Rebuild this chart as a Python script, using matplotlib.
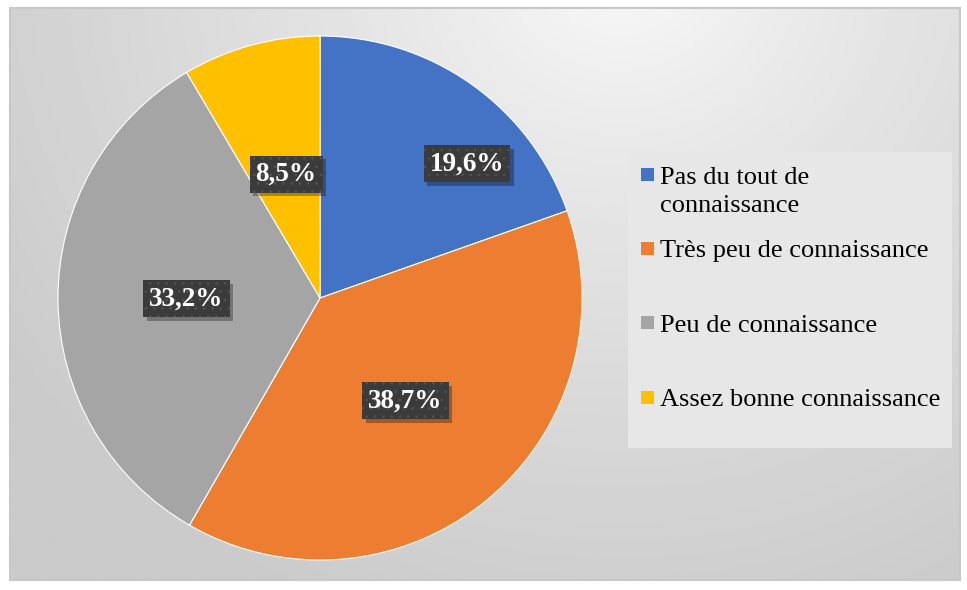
import numpy as np
import matplotlib
matplotlib.use('Agg')
import matplotlib.pyplot as plt
import matplotlib.patheffects as pe
from matplotlib.patches import Rectangle
from matplotlib.transforms import offset_copy

categories = ['Pas du tout de\nconnaissance', 'Très peu de connaissance',
              'Peu de connaissance', 'Assez bonne connaissance']
values = [19.6, 38.7, 33.2, 8.5]
value_labels = ['19,6%', '38,7%', '33,2%', '8,5%']
colors = ['#4472C4', '#ED7D31', '#A5A5A5', '#FFC000']

# label placement (fraction of radius, angle shift in degrees)
label_r = [0.76, 0.51, 0.51, 0.49]
label_shift = [-12.4, 0, 0, 0]

W, H = 967, 590
plt.rcParams['hatch.color'] = '#535353'
plt.rcParams['hatch.linewidth'] = 0.6


class BoxShadow(pe.SimplePatchShadow):
    # same shadow but without the hatch of the box
    def draw_path(self, renderer, gc, tpath, affine, rgbFace):
        gc1 = renderer.new_gc()
        gc1.copy_properties(gc)
        gc1.set_hatch(None)
        super().draw_path(renderer, gc1, tpath, affine, rgbFace)
        gc1.restore()


fig = plt.figure(figsize=(W / 100, H / 100), dpi=100)
fig.patch.set_facecolor('white')


def fx(x):
    return x / W


def fy(y):
    return 1 - y / H


# background panel with radial gradient
left, top, right, bottom = 10, 8, 960, 580
bg = fig.add_axes([fx(left), fy(bottom), (right - left) / W, (bottom - top) / H])
xx, yy = np.meshgrid(np.linspace(left, right, 400), np.linspace(top, bottom, 250))
d = np.sqrt((xx - 620) ** 2 + ((yy + 40) * 1.05) ** 2) / 740
d = np.clip(d, 0, 1) ** 0.75
shade = 0.985 - 0.19 * d
bg.imshow(shade, cmap='gray', vmin=0, vmax=1, aspect='auto',
          extent=[0, 1, 0, 1], interpolation='bilinear')
bg.set_axis_off()
fig.add_artist(Rectangle((fx(left), fy(bottom)), (right - left) / W, (bottom - top) / H,
                         transform=fig.transFigure, fill=False,
                         edgecolor='#c8c8c8', linewidth=1.5))

# pie
cx, cy, r = 320, 298, 262
ax = fig.add_axes([fx(cx - r), fy(cy + r), 2 * r / W, 2 * r / H])
wedges, _ = ax.pie(values, colors=colors, startangle=90, counterclock=False,
                   radius=1, wedgeprops=dict(edgecolor='white', linewidth=0.8))
ax.set_xlim(-1, 1)
ax.set_ylim(-1, 1)
ax.set_axis_off()

for w, lab, rr, sh in zip(wedges, value_labels, label_r, label_shift):
    ang = np.deg2rad((w.theta1 + w.theta2) / 2 + sh)
    t = ax.text(rr * np.cos(ang), rr * np.sin(ang), lab, ha='center', va='center',
                color='white', fontsize=19.5, fontweight='bold',
                family='Liberation Serif',
                bbox=dict(boxstyle='square,pad=0.22', facecolor='#3b3b3b',
                          edgecolor='#535353', linewidth=0, hatch='..'))
    t.get_bbox_patch().set_path_effects([
        BoxShadow(offset=(2.5, -2.5), shadow_rgbFace='black', alpha=0.3),
        pe.Normal()])

# legend
fig.add_artist(Rectangle((fx(628), fy(448)), (952 - 628) / W, (448 - 152) / H,
                         transform=fig.transFigure, facecolor='#e7e7e7',
                         edgecolor='none'))
leg_y = [182, 256, 330, 405]
sq = 13
for lab, c, yb in zip(categories, colors, leg_y):
    fig.add_artist(Rectangle((fx(641), fy(yb - 1)), sq / W, sq / H,
                             transform=fig.transFigure, facecolor=c,
                             edgecolor='none'))
    fig.text(fx(660), fy(yb), lab, ha='left', va='top', fontsize=19,
             family='Liberation Serif', color='black', linespacing=1.4,
             transform=offset_copy(fig.transFigure, fig=fig, x=0, y=15.5,
                                   units='dots'))

plt.savefig('out.png', dpi=100)
